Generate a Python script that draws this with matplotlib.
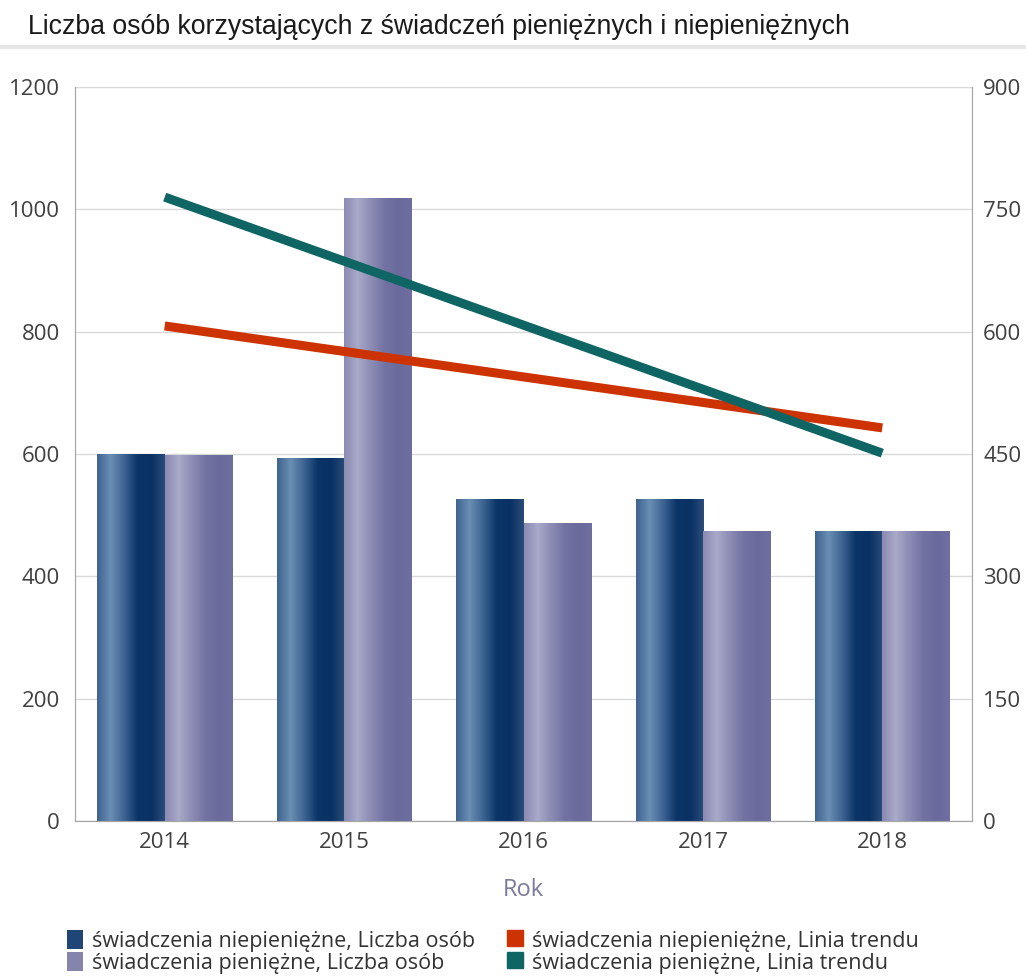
import numpy as np
import matplotlib
matplotlib.use("Agg")
import matplotlib.pyplot as plt
from matplotlib.colors import LinearSegmentedColormap
from matplotlib.patches import Patch
from matplotlib.lines import Line2D

# dane
lata = ["2014", "2015", "2016", "2017", "2018"]
niepieniezne = [600, 592, 526, 526, 474]
pieniezne = [597, 1017, 487, 474, 474]
trend_niepieniezne = [607, 482]   # prawa oś, 2014 -> 2018
trend_pieniezne = [765, 451]

plt.rcParams['font.family'] = ['Open Sans', 'DejaVu Sans']

ciemny = LinearSegmentedColormap.from_list(
    "ciemny", ["#3f6390", "#6a8fb4", "#3d6391", "#0b3568", "#0a3163", "#2a4d7a"])
jasny = LinearSegmentedColormap.from_list(
    "jasny", ["#8a8ab2", "#a9a9c9", "#8c8cb4", "#7373a3", "#6a6a9c", "#6e6ea0"])

fig = plt.figure(figsize=(10.26, 9.76), dpi=100)
ax = fig.add_axes([75 / 1026, 1 - 821 / 976, 897 / 1026, 734 / 976])
ax2 = ax.twinx()

x = np.arange(len(lata))
w = 0.375
grad = np.linspace(0, 1, 256).reshape(1, -1)


def slupek(x0, h, cmap):
    ax.imshow(grad, cmap=cmap, aspect='auto', extent=(x0, x0 + w, 0, h),
              zorder=3, interpolation='bilinear')


for i in range(len(lata)):
    slupek(x[i] - w, niepieniezne[i], ciemny)
    slupek(x[i], pieniezne[i], jasny)

ax.set_xlim(-0.5, 4.5)
ax.set_ylim(0, 1200)
ax.set_yticks(range(0, 1201, 200))
ax.set_xticks(x)
ax.set_xticklabels(lata)
ax.grid(axis='y', color='#d9d9d9', lw=1, zorder=0)
ax.set_axisbelow(True)

ax2.plot([x[0], x[-1]], trend_niepieniezne, color='#cc3300', lw=6.5,
         solid_capstyle='butt', zorder=4)
ax2.plot([x[0], x[-1]], trend_pieniezne, color='#0e6563', lw=6.5,
         solid_capstyle='butt', zorder=4)
ax2.set_ylim(0, 900)
ax2.set_yticks(range(0, 901, 150))

for a in (ax, ax2):
    for s in a.spines.values():
        s.set_color('#a6a6a6')
    a.spines['top'].set_visible(False)
    a.tick_params(length=0, labelsize=16, colors='#404040')
ax.tick_params(axis='y', pad=11)
ax2.tick_params(axis='y', pad=8)
ax.tick_params(axis='x', pad=8)

ax.set_xlabel("Rok", fontsize=17, color='#7a7a9c', labelpad=18)

fig.text(28 / 1026, 1 - 27 / 976, "Liczba osób korzystających z świadczeń pieniężnych i niepieniężnych",
         fontsize=19.2, color='#1a1a1a', va='center', family=['Liberation Sans', 'DejaVu Sans'])
fig.add_artist(Line2D([0, 1], [1 - 47 / 976] * 2, color='#e6e6e6', lw=3))

uchwyty = [
    Patch(facecolor='#1f4676', label='świadczenia niepieniężne, Liczba osób'),
    Patch(facecolor='#8484ad', label='świadczenia pieniężne, Liczba osób'),
    Line2D([], [], ls='none', marker='s', markersize=11, color='#cc3300',
           label='świadczenia niepieniężne, Linia trendu'),
    Line2D([], [], ls='none', marker='s', markersize=11, color='#0e6563',
           label='świadczenia pieniężne, Linia trendu'),
]
fig.legend(handles=uchwyty, ncol=2, loc='upper left', bbox_to_anchor=(56 / 1026, 1 - 919 / 976),
           frameon=False, fontsize=15.5, handlelength=0.75, handleheight=1.0,
           handletextpad=0.4, columnspacing=1.5, labelspacing=0.0,
           labelcolor='#333333', borderpad=0.0)

fig.savefig("out.png", dpi=100)
